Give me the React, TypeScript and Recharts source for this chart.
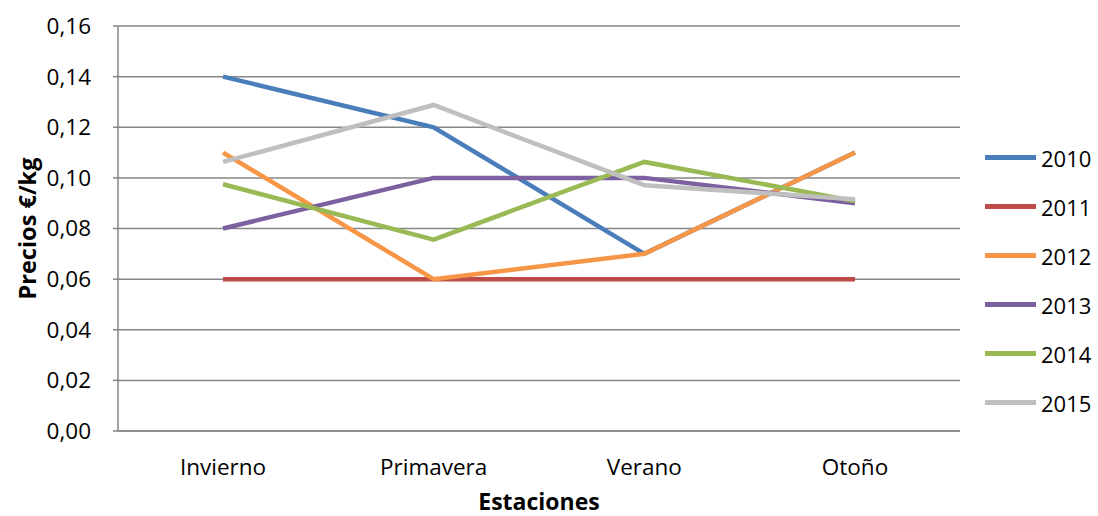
import { CartesianGrid, Label, Legend, Line, LineChart, XAxis, YAxis } from "recharts";

const SEASONS = ["Invierno", "Primavera", "Verano", "Otoño"];
const Y_TICKS = [0, 0.02, 0.04, 0.06, 0.08, 0.1, 0.12, 0.14, 0.16];

const V2010 = [0.14, 0.12, 0.07, 0.11];
const V2011 = [0.06, 0.06, 0.06, 0.06];
const V2012 = [0.11, 0.06, 0.07, 0.11];
const V2013 = [0.08, 0.1, 0.1, 0.09];
const V2014 = [0.0975, 0.0756, 0.1063, 0.0908];
const V2015 = [0.1063, 0.1288, 0.0971, 0.0916];

const SERIES = [
  { key: "2010", values: V2010, color: "#4A7EBB" },
  { key: "2011", values: V2011, color: "#BE4B48" },
  { key: "2012", values: V2012, color: "#F79646" },
  { key: "2013", values: V2013, color: "#7D60A0" },
  { key: "2014", values: V2014, color: "#98B954" },
  { key: "2015", values: V2015, color: "#BFBFBF" },
];

const data = SEASONS.map((name, i) => {
  const row: Record<string, string | number> = { name };
  SERIES.forEach((s) => (row[s.key] = s.values[i]));
  return row;
});

const FONT = "'Open Sans', sans-serif";
const AXIS = "#868686";
const fmt = (v: number) => v.toFixed(2).replace(".", ",");

function LegendBox() {
  return (
    <div style={{ fontFamily: FONT, fontSize: 22, color: "#000" }}>
      {SERIES.map((s) => (
        <div key={s.key} style={{ display: "flex", alignItems: "center", height: 49 }}>
          <div style={{ width: 51, height: 5, background: s.color, marginRight: 5 }} />
          <span>{s.key}</span>
        </div>
      ))}
    </div>
  );
}

export default function App() {
  return (
    <div style={{ position: "absolute", left: 0, top: 0, width: 1098, height: 516, background: "#fff" }}>
      <LineChart width={1098} height={516} data={data} margin={{ top: 26, right: 138, bottom: 0, left: 0 }}>
        <CartesianGrid vertical={false} stroke={AXIS} strokeWidth={1.5} />
        <XAxis
          dataKey="name"
          height={85}
          padding={{ left: 105, right: 105 }}
          axisLine={{ stroke: AXIS, strokeWidth: 1.5 }}
          tickLine={false}
          tickSize={0}
          tickMargin={28}
          tick={{ fill: "#000", fontSize: 22.5, fontFamily: FONT }}
        >
          <Label
            value="Estaciones"
            position="insideBottom"
            offset={6}
            style={{ fill: "#000", fontSize: 23, fontWeight: 700, fontFamily: FONT }}
          />
        </XAxis>
        <YAxis
          width={118}
          domain={[0, 0.16]}
          ticks={Y_TICKS}
          tickFormatter={fmt}
          axisLine={{ stroke: AXIS, strokeWidth: 1.5 }}
          tickLine={{ stroke: AXIS, strokeWidth: 1.5 }}
          tickSize={5}
          tickMargin={22}
          tick={{ fill: "#000", fontSize: 22.5, fontFamily: FONT }}
        >
          <Label
            content={({ viewBox }: any) => {
              const cx = viewBox.x + 27;
              const cy = viewBox.y + viewBox.height / 2;
              return (
                <text
                  x={cx}
                  y={cy}
                  transform={`rotate(-90 ${cx} ${cy})`}
                  textAnchor="middle"
                  dominantBaseline="central"
                  style={{ fill: "#000", fontSize: 23.5, fontWeight: 700, fontFamily: FONT }}
                >
                  Precios €/kg
                </text>
              );
            }}
          />
        </YAxis>
        <Legend
          layout="vertical"
          align="center"
          verticalAlign="middle"
          content={() => <LegendBox />}
          wrapperStyle={{ left: 985, top: 133, width: 113 }}
        />
        {SERIES.map((s) => (
          <Line
            key={s.key}
            dataKey={s.key}
            stroke={s.color}
            strokeWidth={4.5}
            dot={false}
            type="linear"
            isAnimationActive={false}
          />
        ))}
      </LineChart>
    </div>
  );
}
